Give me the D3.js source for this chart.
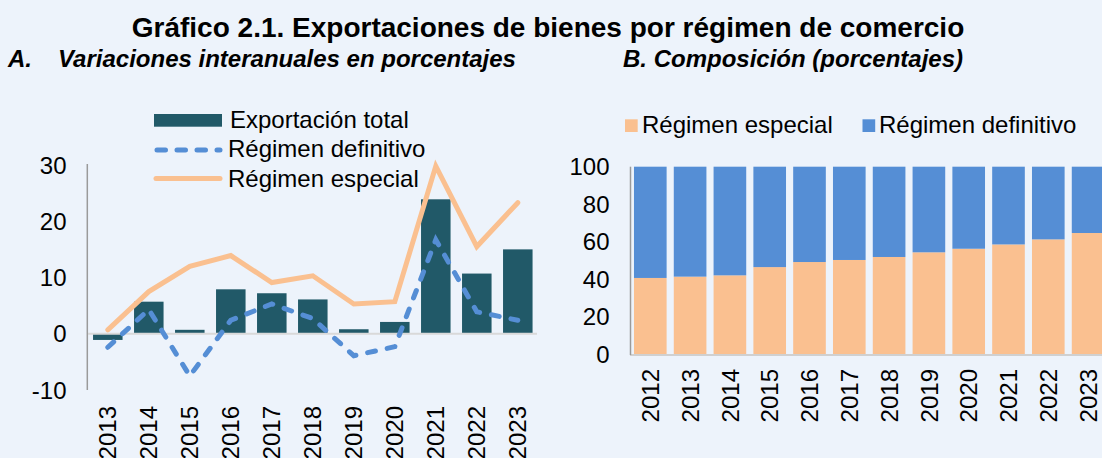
<!DOCTYPE html>
<html>
<head>
<meta charset="utf-8">
<script src="https://cdn.jsdelivr.net/npm/d3@7"></script>
<style>
  html, body { margin: 0; padding: 0; background: #EDF3FB; }
  svg { display: block; }
  text { font-family: "Liberation Sans", Arial, sans-serif; fill: #000; }
</style>
</head>
<body>
<svg id="chart" width="1102" height="458"></svg>
<script>
// ---------- DATA ----------
const yearsA = ["2013","2014","2015","2016","2017","2018","2019","2020","2021","2022","2023"];
const exportTotal = [-1.1, 5.7, 0.7, 7.9, 7.2, 6.1, 0.8, 2.1, 23.9, 10.7, 15.0];
const regDefinitivo = [-2.4, 4.3, -7.5, 2.4, 5.3, 2.7, -3.9, -2.3, 16.7, 3.9, 2.4];
const regEspecial = [0.7, 7.5, 12.0, 13.9, 9.1, 10.3, 5.3, 5.7, 29.8, 15.5, 23.3];
const ticksA = [-10, 0, 10, 20, 30];

const yearsB = ["2012","2013","2014","2015","2016","2017","2018","2019","2020","2021","2022","2023"];
const compEspecial = [40.6, 41.3, 42.0, 46.4, 49.1, 50.2, 51.8, 54.3, 56.2, 58.5, 61.2, 64.6];
const compDefinitivo = [59.4, 58.7, 58.0, 53.6, 50.9, 49.8, 48.2, 45.7, 43.8, 41.5, 38.8, 35.4];
const ticksB = [0, 20, 40, 60, 80, 100];

const C_TOTAL = "#215968", C_DEF = "#558ED5", C_ESP = "#FAC090";

const svg = d3.select("#chart");

// ---------- TITLES ----------
svg.append("text").attr("x", 548).attr("y", 37).attr("text-anchor", "middle")
  .style("font-size", "28px").style("font-weight", "bold")
  .text("Gráfico 2.1. Exportaciones de bienes por régimen de comercio");
svg.append("text").attr("x", 8).attr("y", 66.5)
  .style("font-size", "24px").style("font-weight", "bold").style("font-style", "italic")
  .text("A.");
svg.append("text").attr("x", 58).attr("y", 66.5)
  .style("font-size", "24px").style("font-weight", "bold").style("font-style", "italic")
  .text("Variaciones interanuales en porcentajes");
svg.append("text").attr("x", 623).attr("y", 66.5)
  .style("font-size", "24px").style("font-weight", "bold").style("font-style", "italic")
  .text("B. Composición (porcentajes)");

// ---------- CHART A ----------
const xA = d3.scaleBand().domain(yearsA).range([87.3, 538.3]).paddingInner(0.28).paddingOuter(0.14);
const yA = d3.scaleLinear().domain([-10, 30]).range([390, 165]);

const gA = svg.append("g");
// y axis line
gA.append("line").attr("x1", 87.3).attr("x2", 87.3).attr("y1", yA(30) - 1).attr("y2", yA(-10))
  .attr("stroke", "#9a9a9a").attr("stroke-width", 1.5);
// y tick labels
gA.selectAll(".ytA").data(ticksA).join("text")
  .attr("x", 66.5).attr("y", d => yA(d)).attr("dy", "0.36em").attr("text-anchor", "end")
  .style("font-size", "24px").text(d => d);

// bars
gA.selectAll(".barA").data(yearsA).join("rect")
  .attr("x", d => xA(d)).attr("width", xA.bandwidth())
  .attr("y", (d, i) => Math.min(yA(exportTotal[i]), yA(0)))
  .attr("height", (d, i) => Math.abs(yA(exportTotal[i]) - yA(0)))
  .attr("fill", C_TOTAL);

// zero line
gA.append("line").attr("x1", 88).attr("x2", 537).attr("y1", yA(0)).attr("y2", yA(0))
  .attr("stroke", "#d9d9d9").attr("stroke-width", 2);

const cx = d => xA(d) + xA.bandwidth() / 2;
const lineEsp = d3.line().x((d, i) => cx(yearsA[i])).y(d => yA(d));
gA.append("path").datum(regEspecial).attr("d", lineEsp)
  .attr("fill", "none").attr("stroke", C_ESP).attr("stroke-width", 5).attr("stroke-linecap", "round");
gA.append("path").datum(regDefinitivo).attr("d", lineEsp)
  .attr("fill", "none").attr("stroke", C_DEF).attr("stroke-width", 5)
  .attr("stroke-linecap", "round").attr("stroke-dasharray", "8,12");

// x labels
gA.selectAll(".xlA").data(yearsA).join("text")
  .attr("transform", d => `translate(${cx(d)},406) rotate(-90)`)
  .attr("dy", "0.36em").attr("text-anchor", "end")
  .style("font-size", "24px").text(d => d);

// legend A
const legA = svg.append("g");
legA.append("rect").attr("x", 154).attr("y", 114).attr("width", 68).attr("height", 12.7).attr("fill", C_TOTAL);
legA.append("text").attr("x", 230).attr("y", 127.5).style("font-size", "24px").text("Exportación total");
legA.append("line").attr("x1", 157).attr("x2", 220).attr("y1", 150).attr("y2", 150)
  .attr("stroke", C_DEF).attr("stroke-width", 5).attr("stroke-linecap", "round").attr("stroke-dasharray", "8.5,11.5");
legA.append("text").attr("x", 228).attr("y", 157).style("font-size", "24px").text("Régimen definitivo");
legA.append("line").attr("x1", 156).attr("x2", 220).attr("y1", 178.5).attr("y2", 178.5)
  .attr("stroke", C_ESP).attr("stroke-width", 5).attr("stroke-linecap", "round");
legA.append("text").attr("x", 228).attr("y", 186.5).style("font-size", "24px").text("Régimen especial");

// ---------- CHART B ----------
const xB = d3.scaleBand().domain(yearsB).range([630.4, 630.4 + 12 * 39.8]).paddingInner(0.18).paddingOuter(0.09);
const yB = d3.scaleLinear().domain([0, 100]).range([354, 166.7]);

const tableB = yearsB.map((y, i) => ({ year: y, esp: compEspecial[i], def: compDefinitivo[i] }));
const stackB = d3.stack().keys(["esp", "def"])(tableB);
const colB = { esp: C_ESP, def: C_DEF };

const gB = svg.append("g");
gB.selectAll(".ser").data(stackB).join("g").attr("fill", s => colB[s.key])
  .selectAll("rect").data(s => s).join("rect")
  .attr("x", d => xB(d.data.year)).attr("width", xB.bandwidth())
  .attr("y", d => yB(d[1])).attr("height", d => yB(d[0]) - yB(d[1]));

gB.append("line").attr("x1", 630).attr("x2", 1102).attr("y1", 355).attr("y2", 355)
  .attr("stroke", "#d0d0d0").attr("stroke-width", 2);
gB.append("line").attr("x1", 630.5).attr("x2", 630.5).attr("y1", 166.7).attr("y2", 355)
  .attr("stroke", "#9a9a9a").attr("stroke-width", 1.5);

gB.selectAll(".ytB").data(ticksB).join("text")
  .attr("x", 609.5).attr("y", d => yB(d)).attr("dy", "0.36em").attr("text-anchor", "end")
  .style("font-size", "24px").text(d => d);

gB.selectAll(".xlB").data(yearsB).join("text")
  .attr("transform", d => `translate(${xB(d) + xB.bandwidth() / 2},369) rotate(-90)`)
  .attr("dy", "0.36em").attr("text-anchor", "end")
  .style("font-size", "24px").text(d => d);

// legend B
const legB = svg.append("g");
legB.append("rect").attr("x", 625).attr("y", 119.3).attr("width", 12.7).attr("height", 12.7).attr("fill", C_ESP);
legB.append("text").attr("x", 642).attr("y", 133.3).style("font-size", "24px").text("Régimen especial");
legB.append("rect").attr("x", 862.5).attr("y", 119.3).attr("width", 12.7).attr("height", 12.7).attr("fill", C_DEF);
legB.append("text").attr("x", 879).attr("y", 133.3).style("font-size", "24px").text("Régimen definitivo");
</script>
</body>
</html>
